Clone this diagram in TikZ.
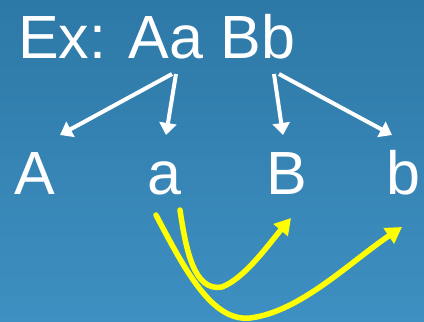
\documentclass[tikz,border=0pt]{standalone}
\usepackage{fontspec}
\setmainfont{Liberation Sans}
\usetikzlibrary{arrows.meta}
\definecolor{bgtop}{RGB}{45,120,166}
\definecolor{bgbot}{RGB}{62,144,194}
\definecolor{hilite}{RGB}{255,255,0}
\tikzset{
  letter/.style={inner sep=0pt, anchor=base, text=white, font=\fontsize{61}{61}\selectfont},
  split/.style={draw=white, line width=4pt, -{Triangle[width=17pt,length=12pt]}},
  pairing/.style={draw=hilite, line width=5.5pt, line cap=round, -{Triangle[width=18pt,length=16pt]}}
}
\begin{document}
\begin{tikzpicture}[x=1pt,y=-1pt]
\useasboundingbox (0,0) rectangle (424,322);
\shade[top color=bgtop, bottom color=bgbot] (0,0) rectangle (424,322);
\node[letter, anchor=base west] (title) at (18,58) {Ex: Aa Bb};
\node[letter] (A) at (35,194) {A};
\node[letter] (a) at (164,194) {a};
\node[letter] (B) at (287,194) {B};
\node[letter] (b) at (403,194) {b};
\coordinate (sAa1) at (172,74);
\coordinate (sAa2) at (176,74);
\coordinate (sBb1) at (274,74);
\coordinate (sBb2) at (279,74);
\coordinate (tA) at (60,135);
\coordinate (ta) at (166,135);
\coordinate (tB) at (283,135);
\coordinate (tb) at (392,135);
\draw[split] (sAa1) -- (tA);
\draw[split] (sAa2) -- (ta);
\draw[split] (sBb1) -- (tB);
\draw[split] (sBb2) -- (tb);
\coordinate (ya1) at (180,210);
\coordinate (ya2) at (156,215);
\coordinate (yB) at (291,218);
\coordinate (yb) at (402,227);
\draw[pairing] (ya1) .. controls (186,250) and (194,292) .. (222,287) .. controls (245,278) and (268,245) .. (yB);
\draw[pairing] (ya2) .. controls (185,270) and (212,322) .. (250,318) .. controls (300,312) and (350,262) .. (yb);
\end{tikzpicture}
\end{document}
